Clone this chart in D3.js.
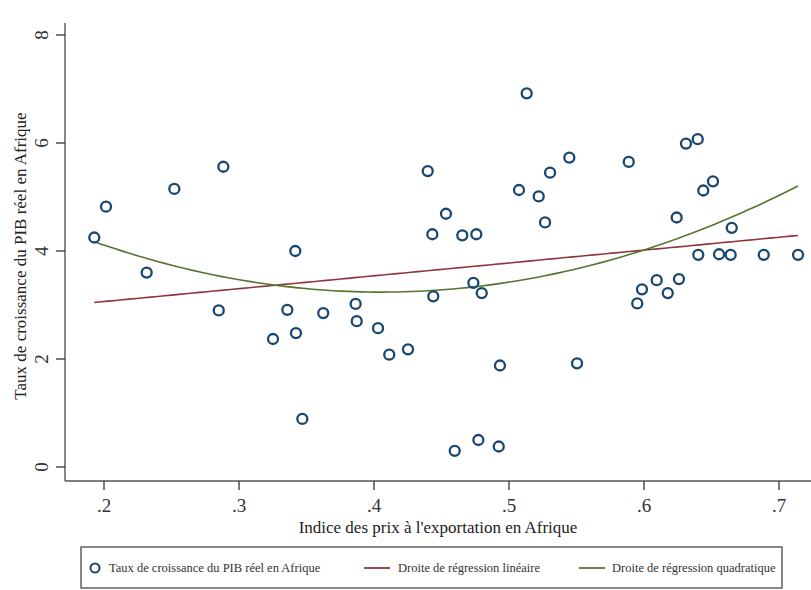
<!DOCTYPE html>
<html>
<head>
<meta charset="utf-8">
<script src="https://cdn.jsdelivr.net/npm/d3@7"></script>
<style>
  html, body { margin: 0; padding: 0; background: #fff; }
  svg { display: block; }
  text { font-family: "Liberation Serif", "Times New Roman", serif; }
</style>
</head>
<body>
<svg id="chart" width="811" height="590"></svg>
<script>
// ---- Data ----
const exportPriceIndex = [0.1928, 0.2015, 0.2316, 0.2521, 0.2884, 0.2850, 0.3252, 0.3358, 0.3417, 0.3422,
  0.3469, 0.3624, 0.3864, 0.3872, 0.4030, 0.4113, 0.4252, 0.4398, 0.4432, 0.4439,
  0.4533, 0.4598, 0.4654, 0.4736, 0.4758, 0.4773, 0.4798, 0.4933, 0.4924, 0.5074,
  0.5131, 0.5220, 0.5267, 0.5304, 0.5447, 0.5504, 0.5887, 0.5950, 0.5985, 0.6094,
  0.6176, 0.6242, 0.6259, 0.6311, 0.6398, 0.6402, 0.6439, 0.6511, 0.6556, 0.6642,
  0.6650, 0.6887, 0.7141];
const gdpGrowth = [4.25, 4.82, 3.60, 5.15, 5.56, 2.90, 2.37, 2.91, 4.00, 2.48,
  0.89, 2.85, 3.02, 2.70, 2.57, 2.08, 2.18, 5.48, 4.31, 3.16,
  4.69, 0.30, 4.29, 3.41, 4.31, 0.50, 3.22, 1.88, 0.38, 5.13,
  6.92, 5.01, 4.53, 5.45, 5.73, 1.92, 5.65, 3.03, 3.29, 3.46,
  3.22, 4.62, 3.48, 5.99, 6.07, 3.93, 5.12, 5.29, 3.94, 3.93,
  4.43, 3.93, 3.93];
const xTicks = [0.2, 0.3, 0.4, 0.5, 0.6, 0.7];
const xTickLabels = [".2", ".3", ".4", ".5", ".6", ".7"];
const yTicks = [0, 2, 4, 6, 8];
const yTickLabels = ["0", "2", "4", "6", "8"];
const seriesNames = ["Taux de croissance du PIB réel en Afrique", "Droite de régression linéaire", "Droite de régression quadratique"];
const xTitle = "Indice des prix à l'exportation en Afrique";
const yTitle = "Taux de croissance du PIB réel en Afrique";

const COL_PTS = "#1a476f", COL_LIN = "#90353b", COL_QUAD = "#55752f";

// ---- Regressions (OLS on the data) ----
const n = exportPriceIndex.length;
function solve(A, b) {
  const m = A.length; const M = A.map((r, i) => r.concat([b[i]]));
  for (let i = 0; i < m; i++) {
    let p = i; for (let k = i + 1; k < m; k++) if (Math.abs(M[k][i]) > Math.abs(M[p][i])) p = k;
    [M[i], M[p]] = [M[p], M[i]];
    for (let k = i + 1; k < m; k++) { const f = M[k][i] / M[i][i]; for (let j = i; j <= m; j++) M[k][j] -= f * M[i][j]; }
  }
  const x = new Array(m).fill(0);
  for (let i = m - 1; i >= 0; i--) { let s = M[i][m]; for (let j = i + 1; j < m; j++) s -= M[i][j] * x[j]; x[i] = s / M[i][i]; }
  return x;
}
function polyFit(deg) {
  const A = [], b = [];
  for (let i = 0; i <= deg; i++) {
    A.push([]);
    for (let j = 0; j <= deg; j++) A[i].push(d3.sum(exportPriceIndex, x => Math.pow(x, i + j)));
    b.push(d3.sum(exportPriceIndex, (x, k) => Math.pow(x, i) * gdpGrowth[k]));
  }
  return solve(A, b);
}
const linC = polyFit(1), quadC = polyFit(2);
const evalP = (c, x) => c.reduce((s, ci, i) => s + ci * Math.pow(x, i), 0);

// ---- Layout ----
const svg = d3.select("#chart");
const x = d3.scaleLinear().domain([0.2, 0.7]).range([104, 779]);
const y = d3.scaleLinear().domain([0, 8]).range([467, 35]);
const plotLeft = 65, plotBottom = 481, plotTop = 23, plotRight = 811;

// Axes lines
svg.append("line").attr("x1", plotLeft).attr("x2", plotLeft).attr("y1", plotTop).attr("y2", plotBottom)
  .attr("stroke", "#555").attr("stroke-width", 1.4);
svg.append("line").attr("x1", plotLeft).attr("x2", plotRight).attr("y1", plotBottom).attr("y2", plotBottom)
  .attr("stroke", "#555").attr("stroke-width", 1.4);

// Y ticks
const yAxis = svg.append("g");
yTicks.forEach((t, i) => {
  yAxis.append("line").attr("x1", plotLeft - 9).attr("x2", plotLeft).attr("y1", y(t)).attr("y2", y(t))
    .attr("stroke", "#333").attr("stroke-width", 1.3);
  yAxis.append("text").attr("transform", `translate(48,${y(t)}) rotate(-90)`)
    .attr("text-anchor", "middle").attr("font-size", 19).attr("fill", "#333").text(yTickLabels[i]);
});
// X ticks
const xAxis = svg.append("g");
xTicks.forEach((t, i) => {
  xAxis.append("line").attr("x1", x(t)).attr("x2", x(t)).attr("y1", plotBottom).attr("y2", plotBottom + 9)
    .attr("stroke", "#333").attr("stroke-width", 1.3);
  xAxis.append("text").attr("x", x(t)).attr("y", 512).attr("text-anchor", "middle")
    .attr("font-size", 19).attr("fill", "#333").text(xTickLabels[i]);
});

// Titles
svg.append("text").attr("x", 438).attr("y", 533).attr("text-anchor", "middle")
  .attr("font-size", 17).attr("fill", "#222").text(xTitle);
svg.append("text").attr("transform", "translate(26,256) rotate(-90)").attr("text-anchor", "middle")
  .attr("font-size", 17).attr("fill", "#222").text(yTitle);

// Fitted lines
const xmin = d3.min(exportPriceIndex), xmax = d3.max(exportPriceIndex);
const grid = d3.range(0, 101).map(i => xmin + (xmax - xmin) * i / 100);
const line = d3.line().x(d => x(d[0])).y(d => y(d[1]));
svg.append("path").datum(grid.map(g => [g, evalP(linC, g)])).attr("d", line)
  .attr("fill", "none").attr("stroke", COL_LIN).attr("stroke-width", 1.6);
svg.append("path").datum(grid.map(g => [g, evalP(quadC, g)])).attr("d", line)
  .attr("fill", "none").attr("stroke", COL_QUAD).attr("stroke-width", 1.6);

// Points
svg.append("g").selectAll("circle").data(d3.range(n)).join("circle")
  .attr("cx", i => x(exportPriceIndex[i])).attr("cy", i => y(gdpGrowth[i])).attr("r", 5)
  .attr("fill", "none").attr("stroke", COL_PTS).attr("stroke-width", 2.3);

// Legend
const lg = svg.append("g");
lg.append("rect").attr("x", 81).attr("y", 547).attr("width", 701).attr("height", 41)
  .attr("fill", "#fff").attr("stroke", "#555").attr("stroke-width", 1.4);
const ly = 568;
lg.append("circle").attr("cx", 95).attr("cy", ly).attr("r", 4.5).attr("fill", "none")
  .attr("stroke", COL_PTS).attr("stroke-width", 2);
lg.append("text").attr("x", 109).attr("y", ly + 4).attr("font-size", 12.5).attr("fill", "#333").text(seriesNames[0]);
lg.append("line").attr("x1", 364).attr("x2", 390).attr("y1", ly).attr("y2", ly).attr("stroke", COL_LIN).attr("stroke-width", 1.8);
lg.append("text").attr("x", 398).attr("y", ly + 4).attr("font-size", 12.5).attr("fill", "#333").text(seriesNames[1]);
lg.append("line").attr("x1", 579).attr("x2", 605).attr("y1", ly).attr("y2", ly).attr("stroke", COL_QUAD).attr("stroke-width", 1.8);
lg.append("text").attr("x", 612).attr("y", ly + 4).attr("font-size", 12.5).attr("fill", "#333").text(seriesNames[2]);
</script>
</body>
</html>
